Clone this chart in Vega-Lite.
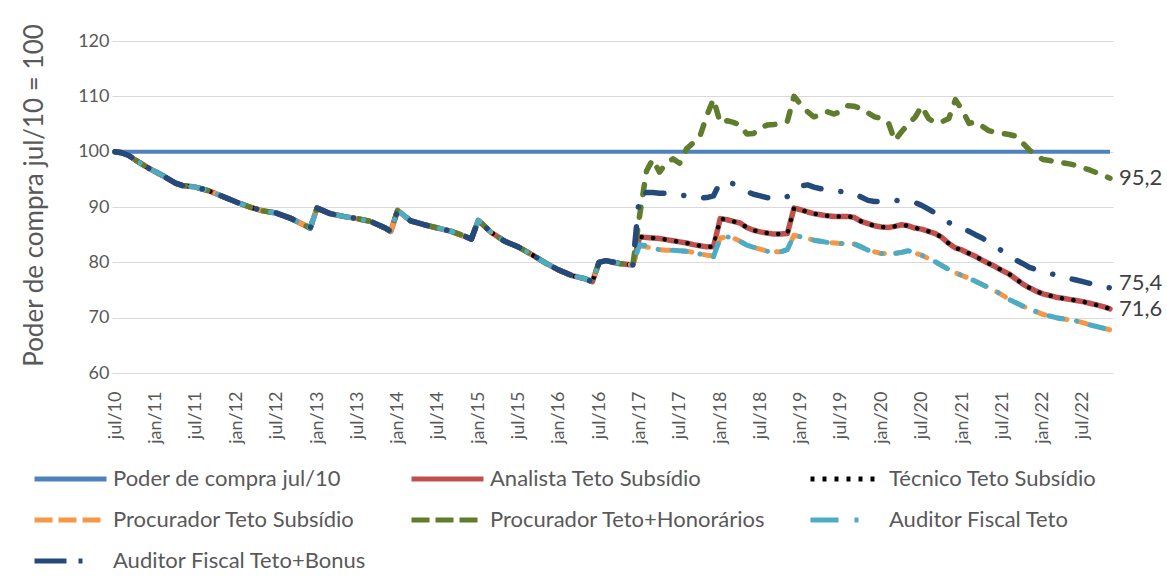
{
"$schema":"https://vega.github.io/schema/vega-lite/v6.json",
"width":1001,"height":332,
"autosize":{"type":"none"},
"padding":{"left":112,"top":41,"right":54,"bottom":206},
"background":"white",
"data":{"format":{"parse":{"d":"date"}},"values":[
{"s":"P","d":"2010-07","v":100},{"s":"P","d":"2022-11","v":100},

{"s":"A","d":"2010-07","v":100},{"s":"A","d":"2010-08","v":99.8},{"s":"A","d":"2010-09","v":99.3},{"s":"A","d":"2010-10","v":98.5},{"s":"A","d":"2010-12","v":97.0},{"s":"A","d":"2011-02","v":95.7},{"s":"A","d":"2011-04","v":94.3},{"s":"A","d":"2011-05","v":93.9},{"s":"A","d":"2011-07","v":93.6},{"s":"A","d":"2011-09","v":92.9},{"s":"A","d":"2011-11","v":91.9},{"s":"A","d":"2012-01","v":90.9},{"s":"A","d":"2012-03","v":90.0},{"s":"A","d":"2012-05","v":89.3},{"s":"A","d":"2012-07","v":88.9},{"s":"A","d":"2012-09","v":88.0},{"s":"A","d":"2012-11","v":86.8},{"s":"A","d":"2012-12","v":86.2},{"s":"A","d":"2013-01","v":89.8},{"s":"A","d":"2013-03","v":88.8},{"s":"A","d":"2013-05","v":88.3},{"s":"A","d":"2013-07","v":87.9},{"s":"A","d":"2013-09","v":87.4},{"s":"A","d":"2013-11","v":86.3},{"s":"A","d":"2013-12","v":85.6},{"s":"A","d":"2014-01","v":89.4},{"s":"A","d":"2014-03","v":87.5},{"s":"A","d":"2014-05","v":86.8},{"s":"A","d":"2014-07","v":86.2},{"s":"A","d":"2014-09","v":85.6},{"s":"A","d":"2014-11","v":84.7},{"s":"A","d":"2014-12","v":84.2},{"s":"A","d":"2015-01","v":87.6},{"s":"A","d":"2015-03","v":85.4},{"s":"A","d":"2015-05","v":83.8},{"s":"A","d":"2015-07","v":82.8},{"s":"A","d":"2015-09","v":81.4},{"s":"A","d":"2015-11","v":79.9},{"s":"A","d":"2016-01","v":78.6},{"s":"A","d":"2016-03","v":77.6},{"s":"A","d":"2016-05","v":77.0},{"s":"A","d":"2016-06","v":76.5},{"s":"A","d":"2016-07","v":80.0},{"s":"A","d":"2016-08","v":80.3},{"s":"A","d":"2016-10","v":79.8},{"s":"A","d":"2016-12","v":79.5},
{"s":"A","d":"2017-01","v":84.6},{"s":"A","d":"2017-02","v":84.5},{"s":"A","d":"2017-03","v":84.4},{"s":"A","d":"2017-04","v":84.3},{"s":"A","d":"2017-05","v":84.1},{"s":"A","d":"2017-06","v":83.9},{"s":"A","d":"2017-07","v":83.7},{"s":"A","d":"2017-08","v":83.5},{"s":"A","d":"2017-09","v":83.2},{"s":"A","d":"2017-10","v":83.0},{"s":"A","d":"2017-11","v":82.8},{"s":"A","d":"2017-12","v":82.8},
{"s":"A","d":"2018-01","v":87.9},{"s":"A","d":"2018-02","v":87.7},{"s":"A","d":"2018-03","v":87.4},{"s":"A","d":"2018-04","v":87.1},{"s":"A","d":"2018-05","v":86.3},{"s":"A","d":"2018-06","v":85.8},{"s":"A","d":"2018-07","v":85.5},{"s":"A","d":"2018-08","v":85.3},{"s":"A","d":"2018-09","v":85.1},{"s":"A","d":"2018-10","v":85.1},{"s":"A","d":"2018-11","v":85.2},{"s":"A","d":"2018-12","v":89.8},
{"s":"A","d":"2019-01","v":89.5},{"s":"A","d":"2019-02","v":89.1},{"s":"A","d":"2019-03","v":88.8},{"s":"A","d":"2019-04","v":88.6},{"s":"A","d":"2019-05","v":88.4},{"s":"A","d":"2019-06","v":88.3},{"s":"A","d":"2019-07","v":88.3},{"s":"A","d":"2019-08","v":88.3},{"s":"A","d":"2019-09","v":88.1},{"s":"A","d":"2019-10","v":87.4},{"s":"A","d":"2019-11","v":87.0},{"s":"A","d":"2019-12","v":86.6},
{"s":"A","d":"2020-01","v":86.4},{"s":"A","d":"2020-02","v":86.3},{"s":"A","d":"2020-03","v":86.5},{"s":"A","d":"2020-04","v":86.8},{"s":"A","d":"2020-05","v":86.6},{"s":"A","d":"2020-06","v":86.2},{"s":"A","d":"2020-07","v":86.0},{"s":"A","d":"2020-08","v":85.6},{"s":"A","d":"2020-09","v":85.2},{"s":"A","d":"2020-10","v":84.5},{"s":"A","d":"2020-11","v":83.4},{"s":"A","d":"2020-12","v":82.6},
{"s":"A","d":"2021-01","v":82.2},{"s":"A","d":"2021-02","v":81.6},{"s":"A","d":"2021-03","v":81.1},{"s":"A","d":"2021-04","v":80.4},{"s":"A","d":"2021-05","v":79.8},{"s":"A","d":"2021-06","v":79.2},{"s":"A","d":"2021-07","v":78.5},{"s":"A","d":"2021-08","v":77.9},{"s":"A","d":"2021-09","v":77.0},{"s":"A","d":"2021-10","v":76.1},{"s":"A","d":"2021-11","v":75.4},{"s":"A","d":"2021-12","v":74.8},
{"s":"A","d":"2022-01","v":74.3},{"s":"A","d":"2022-02","v":74.0},{"s":"A","d":"2022-03","v":73.7},{"s":"A","d":"2022-04","v":73.5},{"s":"A","d":"2022-05","v":73.3},{"s":"A","d":"2022-06","v":73.1},{"s":"A","d":"2022-07","v":72.9},{"s":"A","d":"2022-08","v":72.6},{"s":"A","d":"2022-09","v":72.3},{"s":"A","d":"2022-10","v":72.0},{"s":"A","d":"2022-11","v":71.6},

{"s":"T","d":"2010-07","v":100},{"s":"T","d":"2010-08","v":99.8},{"s":"T","d":"2010-09","v":99.3},{"s":"T","d":"2010-10","v":98.5},{"s":"T","d":"2010-12","v":97.0},{"s":"T","d":"2011-02","v":95.7},{"s":"T","d":"2011-04","v":94.3},{"s":"T","d":"2011-05","v":93.9},{"s":"T","d":"2011-07","v":93.6},{"s":"T","d":"2011-09","v":92.9},{"s":"T","d":"2011-11","v":91.9},{"s":"T","d":"2012-01","v":90.9},{"s":"T","d":"2012-03","v":90.0},{"s":"T","d":"2012-05","v":89.3},{"s":"T","d":"2012-07","v":88.9},{"s":"T","d":"2012-09","v":88.0},{"s":"T","d":"2012-11","v":86.8},{"s":"T","d":"2012-12","v":86.2},{"s":"T","d":"2013-01","v":89.8},{"s":"T","d":"2013-03","v":88.8},{"s":"T","d":"2013-05","v":88.3},{"s":"T","d":"2013-07","v":87.9},{"s":"T","d":"2013-09","v":87.4},{"s":"T","d":"2013-11","v":86.3},{"s":"T","d":"2013-12","v":85.6},{"s":"T","d":"2014-01","v":89.4},{"s":"T","d":"2014-03","v":87.5},{"s":"T","d":"2014-05","v":86.8},{"s":"T","d":"2014-07","v":86.2},{"s":"T","d":"2014-09","v":85.6},{"s":"T","d":"2014-11","v":84.7},{"s":"T","d":"2014-12","v":84.2},{"s":"T","d":"2015-01","v":87.6},{"s":"T","d":"2015-03","v":85.4},{"s":"T","d":"2015-05","v":83.8},{"s":"T","d":"2015-07","v":82.8},{"s":"T","d":"2015-09","v":81.4},{"s":"T","d":"2015-11","v":79.9},{"s":"T","d":"2016-01","v":78.6},{"s":"T","d":"2016-03","v":77.6},{"s":"T","d":"2016-05","v":77.0},{"s":"T","d":"2016-06","v":76.5},{"s":"T","d":"2016-07","v":80.0},{"s":"T","d":"2016-08","v":80.3},{"s":"T","d":"2016-10","v":79.8},{"s":"T","d":"2016-12","v":79.5},
{"s":"T","d":"2017-01","v":84.6},{"s":"T","d":"2017-02","v":84.5},{"s":"T","d":"2017-03","v":84.4},{"s":"T","d":"2017-04","v":84.3},{"s":"T","d":"2017-05","v":84.1},{"s":"T","d":"2017-06","v":83.9},{"s":"T","d":"2017-07","v":83.7},{"s":"T","d":"2017-08","v":83.5},{"s":"T","d":"2017-09","v":83.2},{"s":"T","d":"2017-10","v":83.0},{"s":"T","d":"2017-11","v":82.8},{"s":"T","d":"2017-12","v":82.8},
{"s":"T","d":"2018-01","v":87.9},{"s":"T","d":"2018-02","v":87.7},{"s":"T","d":"2018-03","v":87.4},{"s":"T","d":"2018-04","v":87.1},{"s":"T","d":"2018-05","v":86.3},{"s":"T","d":"2018-06","v":85.8},{"s":"T","d":"2018-07","v":85.5},{"s":"T","d":"2018-08","v":85.3},{"s":"T","d":"2018-09","v":85.1},{"s":"T","d":"2018-10","v":85.1},{"s":"T","d":"2018-11","v":85.2},{"s":"T","d":"2018-12","v":89.8},
{"s":"T","d":"2019-01","v":89.5},{"s":"T","d":"2019-02","v":89.1},{"s":"T","d":"2019-03","v":88.8},{"s":"T","d":"2019-04","v":88.6},{"s":"T","d":"2019-05","v":88.4},{"s":"T","d":"2019-06","v":88.3},{"s":"T","d":"2019-07","v":88.3},{"s":"T","d":"2019-08","v":88.3},{"s":"T","d":"2019-09","v":88.1},{"s":"T","d":"2019-10","v":87.4},{"s":"T","d":"2019-11","v":87.0},{"s":"T","d":"2019-12","v":86.6},
{"s":"T","d":"2020-01","v":86.4},{"s":"T","d":"2020-02","v":86.3},{"s":"T","d":"2020-03","v":86.5},{"s":"T","d":"2020-04","v":86.8},{"s":"T","d":"2020-05","v":86.6},{"s":"T","d":"2020-06","v":86.2},{"s":"T","d":"2020-07","v":86.0},{"s":"T","d":"2020-08","v":85.6},{"s":"T","d":"2020-09","v":85.2},{"s":"T","d":"2020-10","v":84.5},{"s":"T","d":"2020-11","v":83.4},{"s":"T","d":"2020-12","v":82.6},
{"s":"T","d":"2021-01","v":82.2},{"s":"T","d":"2021-02","v":81.6},{"s":"T","d":"2021-03","v":81.1},{"s":"T","d":"2021-04","v":80.4},{"s":"T","d":"2021-05","v":79.8},{"s":"T","d":"2021-06","v":79.2},{"s":"T","d":"2021-07","v":78.5},{"s":"T","d":"2021-08","v":77.9},{"s":"T","d":"2021-09","v":77.0},{"s":"T","d":"2021-10","v":76.1},{"s":"T","d":"2021-11","v":75.4},{"s":"T","d":"2021-12","v":74.8},
{"s":"T","d":"2022-01","v":74.3},{"s":"T","d":"2022-02","v":74.0},{"s":"T","d":"2022-03","v":73.7},{"s":"T","d":"2022-04","v":73.5},{"s":"T","d":"2022-05","v":73.3},{"s":"T","d":"2022-06","v":73.1},{"s":"T","d":"2022-07","v":72.9},{"s":"T","d":"2022-08","v":72.6},{"s":"T","d":"2022-09","v":72.3},{"s":"T","d":"2022-10","v":72.0},{"s":"T","d":"2022-11","v":71.6},

{"s":"PS","d":"2010-07","v":100},{"s":"PS","d":"2010-08","v":99.8},{"s":"PS","d":"2010-09","v":99.3},{"s":"PS","d":"2010-10","v":98.5},{"s":"PS","d":"2010-12","v":97.0},{"s":"PS","d":"2011-02","v":95.7},{"s":"PS","d":"2011-04","v":94.3},{"s":"PS","d":"2011-05","v":93.9},{"s":"PS","d":"2011-07","v":93.6},{"s":"PS","d":"2011-09","v":92.9},{"s":"PS","d":"2011-11","v":91.9},{"s":"PS","d":"2012-01","v":90.9},{"s":"PS","d":"2012-03","v":90.0},{"s":"PS","d":"2012-05","v":89.3},{"s":"PS","d":"2012-07","v":88.9},{"s":"PS","d":"2012-09","v":88.0},{"s":"PS","d":"2012-11","v":86.8},{"s":"PS","d":"2012-12","v":86.2},{"s":"PS","d":"2013-01","v":89.8},{"s":"PS","d":"2013-03","v":88.8},{"s":"PS","d":"2013-05","v":88.3},{"s":"PS","d":"2013-07","v":87.9},{"s":"PS","d":"2013-09","v":87.4},{"s":"PS","d":"2013-11","v":86.3},{"s":"PS","d":"2013-12","v":85.6},{"s":"PS","d":"2014-01","v":89.4},{"s":"PS","d":"2014-03","v":87.5},{"s":"PS","d":"2014-05","v":86.8},{"s":"PS","d":"2014-07","v":86.2},{"s":"PS","d":"2014-09","v":85.6},{"s":"PS","d":"2014-11","v":84.7},{"s":"PS","d":"2014-12","v":84.2},{"s":"PS","d":"2015-01","v":87.6},{"s":"PS","d":"2015-03","v":85.4},{"s":"PS","d":"2015-05","v":83.8},{"s":"PS","d":"2015-07","v":82.8},{"s":"PS","d":"2015-09","v":81.4},{"s":"PS","d":"2015-11","v":79.9},{"s":"PS","d":"2016-01","v":78.6},{"s":"PS","d":"2016-03","v":77.6},{"s":"PS","d":"2016-05","v":77.0},{"s":"PS","d":"2016-06","v":76.5},{"s":"PS","d":"2016-07","v":80.0},{"s":"PS","d":"2016-08","v":80.3},{"s":"PS","d":"2016-10","v":79.8},{"s":"PS","d":"2016-12","v":79.5},
{"s":"PS","d":"2017-01","v":83.0},{"s":"PS","d":"2017-02","v":82.8},{"s":"PS","d":"2017-03","v":82.5},{"s":"PS","d":"2017-04","v":82.3},{"s":"PS","d":"2017-05","v":82.2},{"s":"PS","d":"2017-06","v":82.2},{"s":"PS","d":"2017-07","v":82.1},{"s":"PS","d":"2017-08","v":82.0},{"s":"PS","d":"2017-09","v":81.8},{"s":"PS","d":"2017-10","v":81.5},{"s":"PS","d":"2017-11","v":81.3},{"s":"PS","d":"2017-12","v":81.2},
{"s":"PS","d":"2018-01","v":84.4},{"s":"PS","d":"2018-02","v":84.6},{"s":"PS","d":"2018-03","v":84.4},{"s":"PS","d":"2018-04","v":83.8},{"s":"PS","d":"2018-05","v":83.1},{"s":"PS","d":"2018-06","v":82.7},{"s":"PS","d":"2018-07","v":82.4},{"s":"PS","d":"2018-08","v":82.0},{"s":"PS","d":"2018-09","v":81.9},{"s":"PS","d":"2018-10","v":81.9},{"s":"PS","d":"2018-11","v":82.3},{"s":"PS","d":"2018-12","v":84.9},
{"s":"PS","d":"2019-01","v":84.6},{"s":"PS","d":"2019-02","v":84.3},{"s":"PS","d":"2019-03","v":84.0},{"s":"PS","d":"2019-04","v":83.8},{"s":"PS","d":"2019-05","v":83.6},{"s":"PS","d":"2019-06","v":83.5},{"s":"PS","d":"2019-07","v":83.4},{"s":"PS","d":"2019-08","v":83.4},{"s":"PS","d":"2019-09","v":83.3},{"s":"PS","d":"2019-10","v":82.8},{"s":"PS","d":"2019-11","v":82.2},{"s":"PS","d":"2019-12","v":81.9},
{"s":"PS","d":"2020-01","v":81.6},{"s":"PS","d":"2020-02","v":81.6},{"s":"PS","d":"2020-03","v":81.6},{"s":"PS","d":"2020-04","v":81.8},{"s":"PS","d":"2020-05","v":82.1},{"s":"PS","d":"2020-06","v":81.7},{"s":"PS","d":"2020-07","v":81.3},{"s":"PS","d":"2020-08","v":80.7},{"s":"PS","d":"2020-09","v":80.1},{"s":"PS","d":"2020-10","v":79.4},{"s":"PS","d":"2020-11","v":78.7},{"s":"PS","d":"2020-12","v":78.1},
{"s":"PS","d":"2021-01","v":77.6},{"s":"PS","d":"2021-02","v":77.1},{"s":"PS","d":"2021-03","v":76.6},{"s":"PS","d":"2021-04","v":76.0},{"s":"PS","d":"2021-05","v":75.4},{"s":"PS","d":"2021-06","v":74.8},{"s":"PS","d":"2021-07","v":74.1},{"s":"PS","d":"2021-08","v":73.3},{"s":"PS","d":"2021-09","v":72.7},{"s":"PS","d":"2021-10","v":72.1},{"s":"PS","d":"2021-11","v":71.6},{"s":"PS","d":"2021-12","v":71.1},
{"s":"PS","d":"2022-01","v":70.6},{"s":"PS","d":"2022-02","v":70.3},{"s":"PS","d":"2022-03","v":70.0},{"s":"PS","d":"2022-04","v":69.8},{"s":"PS","d":"2022-05","v":69.6},{"s":"PS","d":"2022-06","v":69.4},{"s":"PS","d":"2022-07","v":69.1},{"s":"PS","d":"2022-08","v":68.7},{"s":"PS","d":"2022-09","v":68.4},{"s":"PS","d":"2022-10","v":68.1},{"s":"PS","d":"2022-11","v":67.8},

{"s":"PH","d":"2010-07","v":100},{"s":"PH","d":"2010-08","v":99.8},{"s":"PH","d":"2010-09","v":99.3},{"s":"PH","d":"2010-10","v":98.5},{"s":"PH","d":"2010-12","v":97.0},{"s":"PH","d":"2011-02","v":95.7},{"s":"PH","d":"2011-04","v":94.3},{"s":"PH","d":"2011-05","v":93.9},{"s":"PH","d":"2011-07","v":93.6},{"s":"PH","d":"2011-09","v":92.9},{"s":"PH","d":"2011-11","v":91.9},{"s":"PH","d":"2012-01","v":90.9},{"s":"PH","d":"2012-03","v":90.0},{"s":"PH","d":"2012-05","v":89.3},{"s":"PH","d":"2012-07","v":88.9},{"s":"PH","d":"2012-09","v":88.0},{"s":"PH","d":"2012-11","v":86.8},{"s":"PH","d":"2012-12","v":86.2},{"s":"PH","d":"2013-01","v":89.8},{"s":"PH","d":"2013-03","v":88.8},{"s":"PH","d":"2013-05","v":88.3},{"s":"PH","d":"2013-07","v":87.9},{"s":"PH","d":"2013-09","v":87.4},{"s":"PH","d":"2013-11","v":86.3},{"s":"PH","d":"2013-12","v":85.6},{"s":"PH","d":"2014-01","v":89.4},{"s":"PH","d":"2014-03","v":87.5},{"s":"PH","d":"2014-05","v":86.8},{"s":"PH","d":"2014-07","v":86.2},{"s":"PH","d":"2014-09","v":85.6},{"s":"PH","d":"2014-11","v":84.7},{"s":"PH","d":"2014-12","v":84.2},{"s":"PH","d":"2015-01","v":87.6},{"s":"PH","d":"2015-03","v":85.4},{"s":"PH","d":"2015-05","v":83.8},{"s":"PH","d":"2015-07","v":82.8},{"s":"PH","d":"2015-09","v":81.4},{"s":"PH","d":"2015-11","v":79.9},{"s":"PH","d":"2016-01","v":78.6},{"s":"PH","d":"2016-03","v":77.6},{"s":"PH","d":"2016-05","v":77.0},{"s":"PH","d":"2016-06","v":76.5},{"s":"PH","d":"2016-07","v":80.0},{"s":"PH","d":"2016-08","v":80.3},{"s":"PH","d":"2016-10","v":79.8},{"s":"PH","d":"2016-12","v":79.5},
{"s":"PH","d":"2017-01","v":88.5},{"s":"PH","d":"2017-02","v":96.5},{"s":"PH","d":"2017-03","v":98.6},{"s":"PH","d":"2017-04","v":96.3},{"s":"PH","d":"2017-05","v":97.9},{"s":"PH","d":"2017-06","v":98.7},{"s":"PH","d":"2017-07","v":97.9},{"s":"PH","d":"2017-08","v":100.5},{"s":"PH","d":"2017-09","v":101.6},{"s":"PH","d":"2017-10","v":102.8},{"s":"PH","d":"2017-11","v":106.5},{"s":"PH","d":"2017-12","v":109.5},
{"s":"PH","d":"2018-01","v":105.2},{"s":"PH","d":"2018-02","v":105.6},{"s":"PH","d":"2018-03","v":105.3},{"s":"PH","d":"2018-04","v":104.8},{"s":"PH","d":"2018-05","v":103.2},{"s":"PH","d":"2018-06","v":103.3},{"s":"PH","d":"2018-07","v":104.3},{"s":"PH","d":"2018-08","v":104.8},{"s":"PH","d":"2018-09","v":104.9},{"s":"PH","d":"2018-10","v":105.1},{"s":"PH","d":"2018-11","v":105.5},{"s":"PH","d":"2018-12","v":110.0},
{"s":"PH","d":"2019-01","v":108.5},{"s":"PH","d":"2019-02","v":107.2},{"s":"PH","d":"2019-03","v":106.3},{"s":"PH","d":"2019-04","v":106.6},{"s":"PH","d":"2019-05","v":107.2},{"s":"PH","d":"2019-06","v":106.8},{"s":"PH","d":"2019-07","v":107.3},{"s":"PH","d":"2019-08","v":108.3},{"s":"PH","d":"2019-09","v":108.2},{"s":"PH","d":"2019-10","v":107.8},{"s":"PH","d":"2019-11","v":107.0},{"s":"PH","d":"2019-12","v":106.3},
{"s":"PH","d":"2020-01","v":106.0},{"s":"PH","d":"2020-02","v":105.3},{"s":"PH","d":"2020-03","v":102.0},{"s":"PH","d":"2020-04","v":103.6},{"s":"PH","d":"2020-05","v":105.0},{"s":"PH","d":"2020-06","v":106.2},{"s":"PH","d":"2020-07","v":108.2},{"s":"PH","d":"2020-08","v":106.0},{"s":"PH","d":"2020-09","v":105.2},{"s":"PH","d":"2020-10","v":105.4},{"s":"PH","d":"2020-11","v":106.0},{"s":"PH","d":"2020-12","v":109.4},
{"s":"PH","d":"2021-01","v":107.5},{"s":"PH","d":"2021-02","v":105.1},{"s":"PH","d":"2021-03","v":105.4},{"s":"PH","d":"2021-04","v":104.6},{"s":"PH","d":"2021-05","v":103.8},{"s":"PH","d":"2021-06","v":103.5},{"s":"PH","d":"2021-07","v":103.3},{"s":"PH","d":"2021-08","v":103.1},{"s":"PH","d":"2021-09","v":102.8},{"s":"PH","d":"2021-10","v":101.6},{"s":"PH","d":"2021-11","v":100.3},{"s":"PH","d":"2021-12","v":99.3},
{"s":"PH","d":"2022-01","v":98.6},{"s":"PH","d":"2022-02","v":98.4},{"s":"PH","d":"2022-03","v":98.1},{"s":"PH","d":"2022-04","v":98.0},{"s":"PH","d":"2022-05","v":97.8},{"s":"PH","d":"2022-06","v":97.5},{"s":"PH","d":"2022-07","v":97.1},{"s":"PH","d":"2022-08","v":96.7},{"s":"PH","d":"2022-09","v":96.2},{"s":"PH","d":"2022-10","v":95.7},{"s":"PH","d":"2022-11","v":95.2},

{"s":"AT","d":"2010-07","v":100},{"s":"AT","d":"2010-08","v":99.8},{"s":"AT","d":"2010-09","v":99.3},{"s":"AT","d":"2010-10","v":98.5},{"s":"AT","d":"2010-12","v":97.0},{"s":"AT","d":"2011-02","v":95.7},{"s":"AT","d":"2011-04","v":94.3},{"s":"AT","d":"2011-05","v":93.9},{"s":"AT","d":"2011-07","v":93.6},{"s":"AT","d":"2011-09","v":92.9},{"s":"AT","d":"2011-11","v":91.9},{"s":"AT","d":"2012-01","v":90.9},{"s":"AT","d":"2012-03","v":90.0},{"s":"AT","d":"2012-05","v":89.3},{"s":"AT","d":"2012-07","v":88.9},{"s":"AT","d":"2012-09","v":88.0},{"s":"AT","d":"2012-11","v":86.8},{"s":"AT","d":"2012-12","v":86.2},{"s":"AT","d":"2013-01","v":89.8},{"s":"AT","d":"2013-03","v":88.8},{"s":"AT","d":"2013-05","v":88.3},{"s":"AT","d":"2013-07","v":87.9},{"s":"AT","d":"2013-09","v":87.4},{"s":"AT","d":"2013-11","v":86.3},{"s":"AT","d":"2013-12","v":85.6},{"s":"AT","d":"2014-01","v":89.4},{"s":"AT","d":"2014-03","v":87.5},{"s":"AT","d":"2014-05","v":86.8},{"s":"AT","d":"2014-07","v":86.2},{"s":"AT","d":"2014-09","v":85.6},{"s":"AT","d":"2014-11","v":84.7},{"s":"AT","d":"2014-12","v":84.2},{"s":"AT","d":"2015-01","v":87.6},{"s":"AT","d":"2015-03","v":85.4},{"s":"AT","d":"2015-05","v":83.8},{"s":"AT","d":"2015-07","v":82.8},{"s":"AT","d":"2015-09","v":81.4},{"s":"AT","d":"2015-11","v":79.9},{"s":"AT","d":"2016-01","v":78.6},{"s":"AT","d":"2016-03","v":77.6},{"s":"AT","d":"2016-05","v":77.0},{"s":"AT","d":"2016-06","v":76.5},{"s":"AT","d":"2016-07","v":80.0},{"s":"AT","d":"2016-08","v":80.3},{"s":"AT","d":"2016-10","v":79.8},{"s":"AT","d":"2016-12","v":79.5},
{"s":"AT","d":"2017-01","v":83.2},{"s":"AT","d":"2017-02","v":83.0},{"s":"AT","d":"2017-03","v":82.5},{"s":"AT","d":"2017-04","v":82.3},{"s":"AT","d":"2017-05","v":82.2},{"s":"AT","d":"2017-06","v":82.2},{"s":"AT","d":"2017-07","v":82.1},{"s":"AT","d":"2017-08","v":82.0},{"s":"AT","d":"2017-09","v":81.8},{"s":"AT","d":"2017-10","v":81.5},{"s":"AT","d":"2017-11","v":81.0},{"s":"AT","d":"2017-12","v":81.0},
{"s":"AT","d":"2018-01","v":84.4},{"s":"AT","d":"2018-02","v":84.6},{"s":"AT","d":"2018-03","v":84.4},{"s":"AT","d":"2018-04","v":83.8},{"s":"AT","d":"2018-05","v":83.1},{"s":"AT","d":"2018-06","v":82.7},{"s":"AT","d":"2018-07","v":82.4},{"s":"AT","d":"2018-08","v":82.0},{"s":"AT","d":"2018-09","v":81.9},{"s":"AT","d":"2018-10","v":81.9},{"s":"AT","d":"2018-11","v":82.3},{"s":"AT","d":"2018-12","v":84.9},
{"s":"AT","d":"2019-01","v":84.6},{"s":"AT","d":"2019-02","v":84.3},{"s":"AT","d":"2019-03","v":84.0},{"s":"AT","d":"2019-04","v":83.8},{"s":"AT","d":"2019-05","v":83.6},{"s":"AT","d":"2019-06","v":83.5},{"s":"AT","d":"2019-07","v":83.4},{"s":"AT","d":"2019-08","v":83.4},{"s":"AT","d":"2019-09","v":83.3},{"s":"AT","d":"2019-10","v":82.8},{"s":"AT","d":"2019-11","v":82.2},{"s":"AT","d":"2019-12","v":81.9},
{"s":"AT","d":"2020-01","v":81.6},{"s":"AT","d":"2020-02","v":81.6},{"s":"AT","d":"2020-03","v":81.6},{"s":"AT","d":"2020-04","v":81.8},{"s":"AT","d":"2020-05","v":82.1},{"s":"AT","d":"2020-06","v":81.7},{"s":"AT","d":"2020-07","v":81.3},{"s":"AT","d":"2020-08","v":80.7},{"s":"AT","d":"2020-09","v":80.1},{"s":"AT","d":"2020-10","v":79.4},{"s":"AT","d":"2020-11","v":78.7},{"s":"AT","d":"2020-12","v":78.1},
{"s":"AT","d":"2021-01","v":77.6},{"s":"AT","d":"2021-02","v":77.1},{"s":"AT","d":"2021-03","v":76.6},{"s":"AT","d":"2021-04","v":76.0},{"s":"AT","d":"2021-05","v":75.4},{"s":"AT","d":"2021-06","v":74.8},{"s":"AT","d":"2021-07","v":74.1},{"s":"AT","d":"2021-08","v":73.3},{"s":"AT","d":"2021-09","v":72.7},{"s":"AT","d":"2021-10","v":72.1},{"s":"AT","d":"2021-11","v":71.6},{"s":"AT","d":"2021-12","v":71.1},
{"s":"AT","d":"2022-01","v":70.6},{"s":"AT","d":"2022-02","v":70.3},{"s":"AT","d":"2022-03","v":70.0},{"s":"AT","d":"2022-04","v":69.8},{"s":"AT","d":"2022-05","v":69.6},{"s":"AT","d":"2022-06","v":69.4},{"s":"AT","d":"2022-07","v":69.1},{"s":"AT","d":"2022-08","v":68.7},{"s":"AT","d":"2022-09","v":68.4},{"s":"AT","d":"2022-10","v":68.1},{"s":"AT","d":"2022-11","v":67.8},

{"s":"AB","d":"2010-07","v":100},{"s":"AB","d":"2010-08","v":99.8},{"s":"AB","d":"2010-09","v":99.3},{"s":"AB","d":"2010-10","v":98.5},{"s":"AB","d":"2010-12","v":97.0},{"s":"AB","d":"2011-02","v":95.7},{"s":"AB","d":"2011-04","v":94.3},{"s":"AB","d":"2011-05","v":93.9},{"s":"AB","d":"2011-07","v":93.6},{"s":"AB","d":"2011-09","v":92.9},{"s":"AB","d":"2011-11","v":91.9},{"s":"AB","d":"2012-01","v":90.9},{"s":"AB","d":"2012-03","v":90.0},{"s":"AB","d":"2012-05","v":89.3},{"s":"AB","d":"2012-07","v":88.9},{"s":"AB","d":"2012-09","v":88.0},{"s":"AB","d":"2012-11","v":86.8},{"s":"AB","d":"2012-12","v":86.2},{"s":"AB","d":"2013-01","v":89.8},{"s":"AB","d":"2013-03","v":88.8},{"s":"AB","d":"2013-05","v":88.3},{"s":"AB","d":"2013-07","v":87.9},{"s":"AB","d":"2013-09","v":87.4},{"s":"AB","d":"2013-11","v":86.3},{"s":"AB","d":"2013-12","v":85.6},{"s":"AB","d":"2014-01","v":89.4},{"s":"AB","d":"2014-03","v":87.5},{"s":"AB","d":"2014-05","v":86.8},{"s":"AB","d":"2014-07","v":86.2},{"s":"AB","d":"2014-09","v":85.6},{"s":"AB","d":"2014-11","v":84.7},{"s":"AB","d":"2014-12","v":84.2},{"s":"AB","d":"2015-01","v":87.6},{"s":"AB","d":"2015-03","v":85.4},{"s":"AB","d":"2015-05","v":83.8},{"s":"AB","d":"2015-07","v":82.8},{"s":"AB","d":"2015-09","v":81.4},{"s":"AB","d":"2015-11","v":79.9},{"s":"AB","d":"2016-01","v":78.6},{"s":"AB","d":"2016-03","v":77.6},{"s":"AB","d":"2016-05","v":77.0},{"s":"AB","d":"2016-06","v":76.5},{"s":"AB","d":"2016-07","v":80.0},{"s":"AB","d":"2016-08","v":80.3},{"s":"AB","d":"2016-10","v":79.8},{"s":"AB","d":"2016-12","v":79.5},
{"s":"AB","d":"2017-01","v":92.5},{"s":"AB","d":"2017-02","v":92.6},{"s":"AB","d":"2017-03","v":92.6},{"s":"AB","d":"2017-04","v":92.5},{"s":"AB","d":"2017-05","v":92.5},{"s":"AB","d":"2017-06","v":92.4},{"s":"AB","d":"2017-07","v":92.2},{"s":"AB","d":"2017-08","v":92.0},{"s":"AB","d":"2017-09","v":91.8},{"s":"AB","d":"2017-10","v":91.6},{"s":"AB","d":"2017-11","v":91.7},{"s":"AB","d":"2017-12","v":92.0},
{"s":"AB","d":"2018-01","v":94.5},{"s":"AB","d":"2018-02","v":94.4},{"s":"AB","d":"2018-03","v":94.2},{"s":"AB","d":"2018-04","v":93.5},{"s":"AB","d":"2018-05","v":92.8},{"s":"AB","d":"2018-06","v":92.3},{"s":"AB","d":"2018-07","v":92.0},{"s":"AB","d":"2018-08","v":91.7},{"s":"AB","d":"2018-09","v":91.4},{"s":"AB","d":"2018-10","v":91.5},{"s":"AB","d":"2018-11","v":91.9},{"s":"AB","d":"2018-12","v":92.8},
{"s":"AB","d":"2019-01","v":93.8},{"s":"AB","d":"2019-02","v":94.0},{"s":"AB","d":"2019-03","v":93.6},{"s":"AB","d":"2019-04","v":93.3},{"s":"AB","d":"2019-05","v":93.1},{"s":"AB","d":"2019-06","v":93.0},{"s":"AB","d":"2019-07","v":92.8},{"s":"AB","d":"2019-08","v":92.7},{"s":"AB","d":"2019-09","v":92.4},{"s":"AB","d":"2019-10","v":91.8},{"s":"AB","d":"2019-11","v":91.2},{"s":"AB","d":"2019-12","v":91.0},
{"s":"AB","d":"2020-01","v":91.0},{"s":"AB","d":"2020-02","v":91.1},{"s":"AB","d":"2020-03","v":91.2},{"s":"AB","d":"2020-04","v":91.1},{"s":"AB","d":"2020-05","v":91.0},{"s":"AB","d":"2020-06","v":90.8},{"s":"AB","d":"2020-07","v":90.3},{"s":"AB","d":"2020-08","v":89.6},{"s":"AB","d":"2020-09","v":88.9},{"s":"AB","d":"2020-10","v":88.0},{"s":"AB","d":"2020-11","v":87.2},{"s":"AB","d":"2020-12","v":86.6},
{"s":"AB","d":"2021-01","v":86.1},{"s":"AB","d":"2021-02","v":85.6},{"s":"AB","d":"2021-03","v":85.0},{"s":"AB","d":"2021-04","v":84.4},{"s":"AB","d":"2021-05","v":83.6},{"s":"AB","d":"2021-06","v":82.9},{"s":"AB","d":"2021-07","v":82.0},{"s":"AB","d":"2021-08","v":81.2},{"s":"AB","d":"2021-09","v":80.4},{"s":"AB","d":"2021-10","v":79.8},{"s":"AB","d":"2021-11","v":79.1},{"s":"AB","d":"2021-12","v":78.7},
{"s":"AB","d":"2022-01","v":78.3},{"s":"AB","d":"2022-02","v":78.0},{"s":"AB","d":"2022-03","v":77.7},{"s":"AB","d":"2022-04","v":77.4},{"s":"AB","d":"2022-05","v":77.1},{"s":"AB","d":"2022-06","v":76.8},{"s":"AB","d":"2022-07","v":76.5},{"s":"AB","d":"2022-08","v":76.2},{"s":"AB","d":"2022-09","v":75.9},{"s":"AB","d":"2022-10","v":75.6},{"s":"AB","d":"2022-11","v":75.4}
]},
"transform":[{"lookup":"s","from":{"data":{"values":[
{"s":"P","name":"Poder de compra jul/10"},
{"s":"A","name":"Analista Teto Subsídio"},
{"s":"T","name":"Técnico Teto Subsídio"},
{"s":"PS","name":"Procurador Teto Subsídio"},
{"s":"PH","name":"Procurador Teto+Honorários"},
{"s":"AT","name":"Auditor Fiscal Teto"},
{"s":"AB","name":"Auditor Fiscal Teto+Bonus"}]},"key":"s","fields":["name"]}}],
"encoding":{
"x":{"field":"d","type":"temporal","title":null,
 "scale":{"type":"utc","domain":[{"year":2010,"month":7,"date":1,"utc":true},{"year":2022,"month":11,"date":1,"utc":true}],"padding":3},
 "axis":{"values":[
 {"year":2010,"month":7,"date":1,"utc":true},{"year":2011,"month":1,"date":1,"utc":true},{"year":2011,"month":7,"date":1,"utc":true},
 {"year":2012,"month":1,"date":1,"utc":true},{"year":2012,"month":7,"date":1,"utc":true},{"year":2013,"month":1,"date":1,"utc":true},
 {"year":2013,"month":7,"date":1,"utc":true},{"year":2014,"month":1,"date":1,"utc":true},{"year":2014,"month":7,"date":1,"utc":true},
 {"year":2015,"month":1,"date":1,"utc":true},{"year":2015,"month":7,"date":1,"utc":true},{"year":2016,"month":1,"date":1,"utc":true},
 {"year":2016,"month":7,"date":1,"utc":true},{"year":2017,"month":1,"date":1,"utc":true},{"year":2017,"month":7,"date":1,"utc":true},
 {"year":2018,"month":1,"date":1,"utc":true},{"year":2018,"month":7,"date":1,"utc":true},{"year":2019,"month":1,"date":1,"utc":true},
 {"year":2019,"month":7,"date":1,"utc":true},{"year":2020,"month":1,"date":1,"utc":true},{"year":2020,"month":7,"date":1,"utc":true},
 {"year":2021,"month":1,"date":1,"utc":true},{"year":2021,"month":7,"date":1,"utc":true},{"year":2022,"month":1,"date":1,"utc":true},
 {"year":2022,"month":7,"date":1,"utc":true}],
 "labelExpr":"lower(utcFormat(datum.value, '%b/%y'))","labelAngle":270,"labelPadding":18,"ticks":false,"domain":false,"grid":false,
 "labelFontSize":18,"labelOverlap":false,"labelBound":false,"labelFlush":false}},
"y":{"field":"v","type":"quantitative","title":"Poder de compra jul/10 = 100",
 "scale":{"domain":[60,120],"nice":false,"zero":false},
 "axis":{"values":[60,70,80,90,100,110,120],"ticks":false,"domain":false,"labelPadding":3,"titlePadding":30,"titleY":154,"titleFontSize":26,"titleFontWeight":"normal","labelFontSize":18,"gridColor":"#D9D9D9","gridWidth":1}},
"color":{"field":"name","type":"nominal","title":null,
 "scale":{"domain":["Poder de compra jul/10","Analista Teto Subsídio","Técnico Teto Subsídio","Procurador Teto Subsídio","Procurador Teto+Honorários","Auditor Fiscal Teto","Auditor Fiscal Teto+Bonus"],
 "range":["#4F81BD","#C0504D","#000000","#F79646","#607D2E","#4BACC6","#244A7C"]}}
},
"layer":[
{"transform":[{"filter":"datum.s == 'none'"}],"mark":{"type":"line"},
 "encoding":{"strokeDash":{"field":"name","type":"nominal","title":null,
 "scale":{"domain":["Poder de compra jul/10","Analista Teto Subsídio","Técnico Teto Subsídio","Procurador Teto Subsídio","Procurador Teto+Honorários","Auditor Fiscal Teto","Auditor Fiscal Teto+Bonus"],
 "range":[[1,0],[1,0],[4,8],[18,6],[18,6],[28,16,4,40],[32,12,4,40]]}}}},
{"transform":[{"filter":"datum.s == 'P'"}],"mark":{"type":"line","strokeWidth":4}},
{"transform":[{"filter":"datum.s == 'A'"}],"mark":{"type":"line","strokeWidth":5.5,"strokeCap":"round","strokeJoin":"round"}},
{"transform":[{"filter":"datum.s == 'T'"}],"mark":{"type":"line","strokeWidth":4.5,"strokeCap":"round","strokeJoin":"round","strokeDash":[0.1,11.5]}},
{"transform":[{"filter":"datum.s == 'PS'"}],"mark":{"type":"line","strokeWidth":5,"strokeCap":"round","strokeJoin":"round","strokeDash":[10,12]}},
{"transform":[{"filter":"datum.s == 'PH'"}],"mark":{"type":"line","strokeWidth":5.5,"strokeCap":"round","strokeJoin":"round","strokeDash":[10,13]}},
{"transform":[{"filter":"datum.s == 'AT'"}],"mark":{"type":"line","strokeWidth":5,"strokeCap":"round","strokeJoin":"round","strokeDash":[14,14,0.1,14]}},
{"transform":[{"filter":"datum.s == 'AB'"}],"mark":{"type":"line","strokeWidth":5.5,"strokeCap":"round","strokeJoin":"round","strokeDash":[18,20,0.1,20]}},
{"transform":[{"filter":"(datum.s == 'PH' || datum.s == 'A') && utcyear(datum.d) == 2022 && utcmonth(datum.d) == 10"},{"calculate":"replace(format(datum.v, '.1f'), '.', ',')","as":"lbl"}],
 "mark":{"type":"text","align":"left","baseline":"middle","dx":9,"fontSize":22,"font":"Lato"},
 "encoding":{"text":{"field":"lbl","type":"nominal"},"color":{"value":"#404040"}}},
{"transform":[{"filter":"datum.s == 'AB' && utcyear(datum.d) == 2022 && utcmonth(datum.d) == 10"},{"calculate":"replace(format(datum.v, '.1f'), '.', ',')","as":"lbl"}],
 "mark":{"type":"text","align":"left","baseline":"middle","dx":9,"dy":-5,"fontSize":22,"font":"Lato"},
 "encoding":{"text":{"field":"lbl","type":"nominal"},"color":{"value":"#404040"}}}
],
"config":{
"font":"Lato",
"view":{"stroke":null},
"axis":{"labelFont":"Lato","titleFont":"Lato","labelColor":"#595959","titleColor":"#595959"},
"legend":{"orient":"none","direction":"horizontal","legendX":-80,"legendY":426,"columns":3,"columnPadding":42,"rowPadding":17,"symbolType":"stroke","symbolSize":5184,"symbolStrokeWidth":5,"clipHeight":24,"labelFont":"Lato","labelFontSize":22,"labelColor":"#595959","labelOffset":4,"labelLimit":400,"padding":0}
}
}
